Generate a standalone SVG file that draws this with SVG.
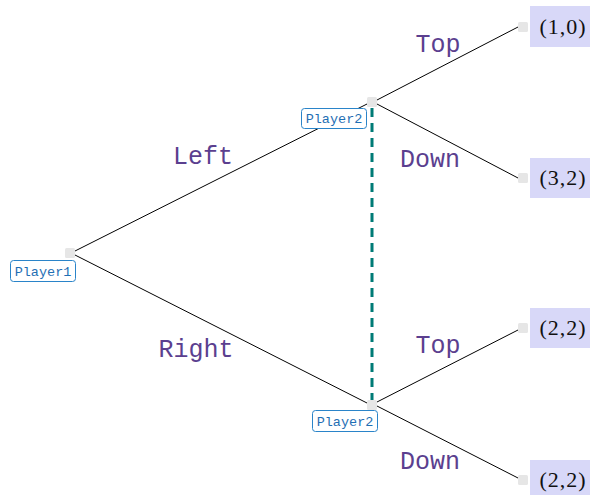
<svg xmlns="http://www.w3.org/2000/svg" width="590" height="495" viewBox="0 0 590 495">
<style>
.edge{stroke:#000;stroke-width:1;fill:none}
.dash{stroke:#007b76;stroke-width:3;stroke-dasharray:9,6;fill:none}
.node{fill:#e6e6e6}
.plab{fill:#fff;stroke:#2a84c9;stroke-width:1}
.ptxt{font-family:"Liberation Mono",monospace;font-size:13.5px;fill:#1f6fb4;text-anchor:middle}
.elab{font-family:"Liberation Mono",monospace;font-size:25px;fill:#5b3f8f;text-anchor:middle}
.leaf{fill:#d8d8f8}
.ltxt{font-family:"Liberation Serif",serif;font-size:22px;fill:#111;text-anchor:middle;letter-spacing:1px}
</style>
<g id="connectors">
<line class="edge" x1="75" y1="251" x2="367" y2="104"/>
<line class="edge" x1="75" y1="255" x2="367" y2="403"/>
<line class="edge" x1="377" y1="100" x2="518" y2="27"/>
<line class="edge" x1="377" y1="104" x2="518" y2="178"/>
<line class="edge" x1="377" y1="402" x2="518" y2="330"/>
<line class="edge" x1="377" y1="406" x2="518" y2="478"/>
<line class="dash" x1="372" y1="108" x2="372" y2="400"/>
<text class="elab" x="203" y="164">Left</text>
<text class="elab" x="196" y="357">Right</text>
<text class="elab" x="438" y="52">Top</text>
<text class="elab" x="430" y="167">Down</text>
<text class="elab" x="438" y="353">Top</text>
<text class="elab" x="430" y="469">Down</text>
</g>
<g id="p1">
<rect class="node" x="65" y="248" width="10" height="10" rx="1.5"/>
<rect class="plab" x="10.5" y="260.5" width="65" height="21" rx="3"/>
<text class="ptxt" x="43" y="275.5">Player1</text>
</g>
<g id="p2top">
<rect class="node" x="367" y="97" width="10" height="10" rx="1.5"/>
<rect class="plab" x="301.5" y="108.5" width="65" height="20" rx="3"/>
<text class="ptxt" x="334" y="123">Player2</text>
</g>
<g id="p2bot">
<rect class="node" x="367" y="400" width="10" height="10" rx="1.5"/>
<rect class="plab" x="312.5" y="410.5" width="65" height="21" rx="3"/>
<text class="ptxt" x="345" y="425.5">Player2</text>
</g>
<g id="leaf1">
<rect class="node" x="518" y="22" width="10" height="10" rx="1.5"/>
<rect class="leaf" x="530" y="6" width="60" height="41"/>
<text class="ltxt" x="563" y="34">(1,0)</text>
</g>
<g id="leaf2">
<rect class="node" x="518" y="173" width="10" height="10" rx="1.5"/>
<rect class="leaf" x="530" y="158" width="60" height="40"/>
<text class="ltxt" x="563" y="185">(3,2)</text>
</g>
<g id="leaf3">
<rect class="node" x="518" y="323" width="10" height="10" rx="1.5"/>
<rect class="leaf" x="530" y="308" width="60" height="40"/>
<text class="ltxt" x="563" y="335">(2,2)</text>
</g>
<g id="leaf4">
<rect class="node" x="518" y="475" width="10" height="10" rx="1.5"/>
<rect class="leaf" x="530" y="460" width="60" height="35"/>
<text class="ltxt" x="563" y="487">(2,2)</text>
</g>
</svg>
